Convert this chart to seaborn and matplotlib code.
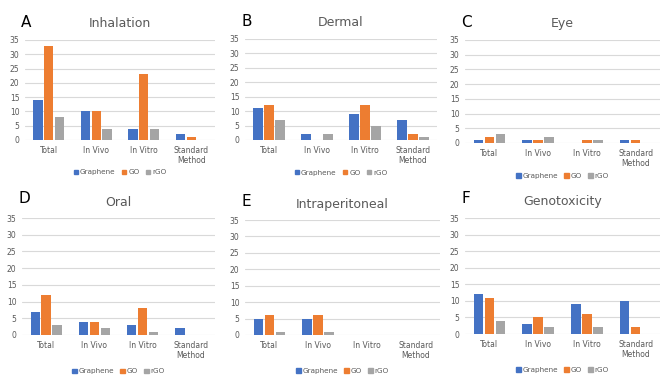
import matplotlib
matplotlib.use("Agg")
import matplotlib.pyplot as plt
import seaborn as sns
import pandas as pd

categories = ['Total', 'In Vivo', 'In Vitro', 'Standard\nMethod']
materials = ['Graphene', 'GO', 'rGO']

inhalation_graphene = [14, 10, 4, 2]
inhalation_go = [33, 10, 23, 1]
inhalation_rgo = [8, 4, 4, 0]

dermal_graphene = [11, 2, 9, 7]
dermal_go = [12, 0, 12, 2]
dermal_rgo = [7, 2, 5, 1]

eye_graphene = [1, 1, 0, 1]
eye_go = [2, 1, 1, 1]
eye_rgo = [3, 2, 1, 0]

oral_graphene = [7, 4, 3, 2]
oral_go = [12, 4, 8, 0]
oral_rgo = [3, 2, 1, 0]

ip_graphene = [5, 5, 0, 0]
ip_go = [6, 6, 0, 0]
ip_rgo = [1, 1, 0, 0]

geno_graphene = [12, 3, 9, 10]
geno_go = [11, 5, 6, 2]
geno_rgo = [4, 2, 2, 0]

panels = [
    ('A', 'Inhalation', inhalation_graphene, inhalation_go, inhalation_rgo),
    ('B', 'Dermal', dermal_graphene, dermal_go, dermal_rgo),
    ('C', 'Eye', eye_graphene, eye_go, eye_rgo),
    ('D', 'Oral', oral_graphene, oral_go, oral_rgo),
    ('E', 'Intraperitoneal', ip_graphene, ip_go, ip_rgo),
    ('F', 'Genotoxicity', geno_graphene, geno_go, geno_rgo),
]

# axes boxes in pixels: left, right, top, bottom
boxes = [
    (25, 215, 40, 140),
    (245, 437, 39, 140),
    (465, 660, 40, 143),
    (22, 215, 218, 335),
    (245, 440, 220, 335),
    (465, 660, 218, 334),
]

palette = {'Graphene': '#4472C4', 'GO': '#ED7D31', 'rGO': '#A5A5A5'}
W, H = 670, 381

sns.set_style('white')
plt.rcParams['font.family'] = ['DejaVu Sans']
fig = plt.figure(figsize=(W / 100, H / 100), dpi=100)

for (letter, title, g, go, rgo), (l, r, t, b) in zip(panels, boxes):
    ax = fig.add_axes([l / W, 1 - b / H, (r - l) / W, (b - t) / H])
    df = pd.DataFrame({
        'category': categories * 3,
        'material': [m for m in materials for _ in categories],
        'count': g + go + rgo,
    })
    sns.barplot(data=df, x='category', y='count', hue='material',
                palette=palette, order=categories, hue_order=materials,
                width=0.68, gap=0.15, linewidth=0, saturation=1,
                ax=ax, legend=False)
    ax.set_ylim(0, 35)
    ax.set_yticks(range(0, 36, 5))
    ax.set_xlim(-0.5, 3.5)
    ax.grid(axis='y', color='#D9D9D9', linewidth=0.8)
    ax.set_axisbelow(True)
    for s in ax.spines.values():
        s.set_visible(False)
    ax.tick_params(axis='both', length=0, labelsize=5.5, colors='#595959', pad=4)
    ax.set_xlabel('')
    ax.set_ylabel('')
    ax.set_title(title, fontsize=9, color='#595959', pad=9)
    ax.text(-0.02, 1.1, letter, transform=ax.transAxes, fontsize=11,
            color='black', ha='left', va='bottom')
    handles = [plt.Rectangle((0, 0), 1, 1, color=palette[m]) for m in materials]
    ax.legend(handles, materials, loc='upper center', bbox_to_anchor=(0.5, -0.23),
              ncol=3, frameon=False, fontsize=5.2, handlelength=0.6,
              handleheight=0.6, handletextpad=0.25, columnspacing=0.9,
              labelcolor='#595959')

fig.savefig('out.png', dpi=100)
